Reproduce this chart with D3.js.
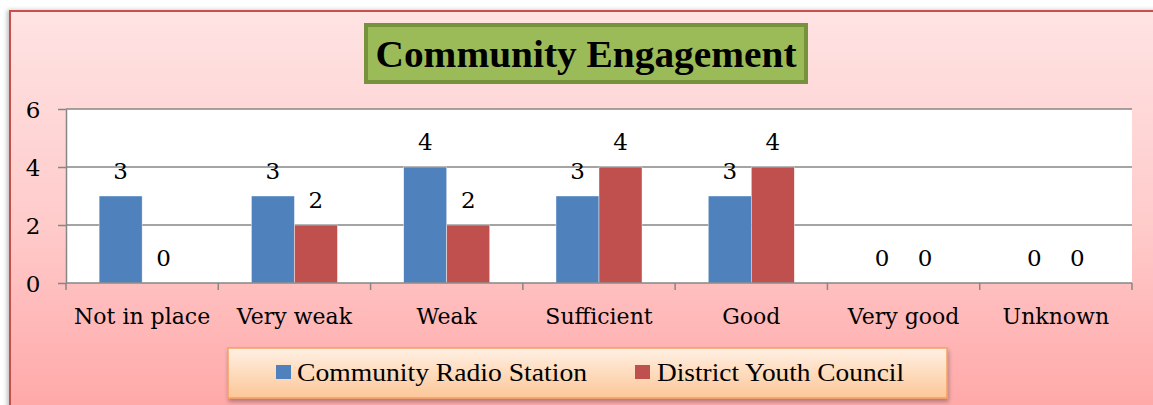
<!DOCTYPE html>
<html>
<head>
<meta charset="utf-8">
<script src="https://cdn.jsdelivr.net/npm/d3@7"></script>
<style>
  body { margin: 0; background: #fff; }
  svg { display: block; }
</style>
</head>
<body>
<script>
// data
var categories = ["Not in place", "Very weak", "Weak", "Sufficient", "Good", "Very good", "Unknown"];
var seriesNames = ["Community Radio Station", "District Youth Council"];
var radioValues = [3, 3, 4, 3, 3, 0, 0];
var youthValues = [0, 2, 2, 4, 4, 0, 0];
var yTicks = [0, 2, 4, 6];
var chartTitle = "Community Engagement";

var seriesColors = ["#4f81bd", "#c0504d"];

var W = 1153, H = 405;
// plot area
var margin = { top: 109, right: 21, bottom: 122, left: 66 };
var width = W - margin.left - margin.right,
    height = H - margin.top - margin.bottom;

var svg = d3.select("body").append("svg")
    .attr("width", W)
    .attr("height", H);

var defs = svg.append("defs");

var bgGrad = defs.append("linearGradient")
    .attr("id", "bgGrad").attr("x1", 0).attr("y1", 0).attr("x2", 0).attr("y2", 1);
bgGrad.append("stop").attr("offset", "0%").attr("stop-color", "#ffe3e3");
bgGrad.append("stop").attr("offset", "50%").attr("stop-color", "#ffcbcb");
bgGrad.append("stop").attr("offset", "100%").attr("stop-color", "#ffa3a3");

var legGrad = defs.append("linearGradient")
    .attr("id", "legGrad").attr("x1", 0).attr("y1", 0).attr("x2", 0).attr("y2", 1);
legGrad.append("stop").attr("offset", "0%").attr("stop-color", "#fff0e4");
legGrad.append("stop").attr("offset", "100%").attr("stop-color", "#fcc797");

var shadow = defs.append("filter").attr("id", "shadow")
    .attr("x", "-5%").attr("y", "-20%").attr("width", "110%").attr("height", "150%");
shadow.append("feDropShadow").attr("dx", 1).attr("dy", 3).attr("stdDeviation", 2)
    .attr("flood-color", "#000").attr("flood-opacity", 0.3);

var shadowBg = defs.append("filter").attr("id", "shadowBg")
    .attr("x", "-2%").attr("y", "-2%").attr("width", "104%").attr("height", "104%");
shadowBg.append("feDropShadow").attr("dx", -2).attr("dy", 0).attr("stdDeviation", 2)
    .attr("flood-color", "#000").attr("flood-opacity", 0.25);

// chart background
svg.append("rect")
    .attr("x", 10).attr("y", 11)
    .attr("width", W + 20).attr("height", H + 20)
    .attr("fill", "url(#bgGrad)")
    .attr("stroke", "#c9504d")
    .attr("stroke-width", 2)
    .attr("filter", "url(#shadowBg)");

// title box
var titleBox = { x: 366, y: 25, w: 440, h: 57 };
svg.append("rect")
    .attr("x", titleBox.x).attr("y", titleBox.y)
    .attr("width", titleBox.w).attr("height", titleBox.h)
    .attr("fill", "#9bbb59")
    .attr("stroke", "#76923c")
    .attr("stroke-width", 4);
svg.append("text")
    .attr("x", titleBox.x + titleBox.w / 2)
    .attr("y", 67)
    .attr("text-anchor", "middle")
    .attr("textLength", 421)
    .attr("lengthAdjust", "spacingAndGlyphs")
    .style("font-family", "'Liberation Serif', serif")
    .style("font-weight", "bold")
    .style("font-size", "37px")
    .attr("fill", "#000")
    .text(chartTitle);

var g = svg.append("g")
    .attr("transform", "translate(" + margin.left + "," + margin.top + ")");

// scales
var x0 = d3.scaleBand().domain(categories).range([0, width]).padding(0);
var x1 = d3.scaleBand().domain(seriesNames).range([0, x0.bandwidth()])
    .paddingInner(0).paddingOuter(0.77);
var y = d3.scaleLinear().domain([0, 6]).range([height, 0]);

// plot area
g.append("rect")
    .attr("width", width).attr("height", height)
    .attr("fill", "#fff");

// gridlines
g.selectAll("line.grid")
    .data(yTicks.filter(function (d) { return d > 0; }))
    .enter().append("line")
    .attr("class", "grid")
    .attr("x1", 0).attr("x2", width)
    .attr("y1", function (d) { return y(d); })
    .attr("y2", function (d) { return y(d); })
    .attr("stroke", "#868686")
    .attr("stroke-width", 1.5);

var rows = categories.map(function (c, i) {
    return { cat: c, vals: [radioValues[i], youthValues[i]] };
});

// bars
var groups = g.selectAll("g.cat")
    .data(rows)
    .enter().append("g")
    .attr("class", "cat")
    .attr("transform", function (d) { return "translate(" + x0(d.cat) + ",0)"; });

groups.selectAll("rect")
    .data(function (d) {
        return d.vals.map(function (v, k) { return { s: seriesNames[k], v: v, k: k }; });
    })
    .enter().append("rect")
    .attr("x", function (d) { return x1(d.s); })
    .attr("y", function (d) { return y(d.v); })
    .attr("width", x1.bandwidth())
    .attr("height", function (d) { return height - y(d.v); })
    .attr("fill", function (d) { return seriesColors[d.k]; })
    .attr("stroke", "#fff")
    .attr("stroke-width", 0.6)
    .attr("stroke-opacity", 0.7);

// value labels
groups.selectAll("text")
    .data(function (d) {
        return d.vals.map(function (v, k) { return { s: seriesNames[k], v: v, k: k }; });
    })
    .enter().append("text")
    .attr("x", function (d) { return x1(d.s) + x1.bandwidth() / 2; })
    .attr("y", function (d) { return y(d.v) - 17; })
    .attr("text-anchor", "middle")
    .style("font-family", "'DejaVu Serif', serif")
    .style("font-size", "23px")
    .attr("fill", "#000")
    .text(function (d) { return d.v; });

// y axis
var yAxis = g.append("g")
    .call(d3.axisLeft(y).tickValues(yTicks).tickSize(8).tickSizeOuter(0).tickFormat(d3.format("d")));
yAxis.select(".domain").attr("stroke", "#868686").attr("stroke-width", 1.5);
yAxis.selectAll(".tick line").attr("stroke", "#868686").attr("stroke-width", 1.5);
yAxis.selectAll(".tick text")
    .attr("x", -33).attr("dy", "0.36em")
    .attr("text-anchor", "middle")
    .style("font-family", "'DejaVu Serif', serif")
    .style("font-size", "23px")
    .attr("fill", "#000");

// x axis with ticks on category boundaries
var xAxisG = g.append("g").attr("transform", "translate(0," + height + ")");
xAxisG.append("line")
    .attr("x1", 0).attr("x2", width)
    .attr("stroke", "#868686").attr("stroke-width", 1.5);
xAxisG.selectAll("line.tk")
    .data(categories.concat(["end"]))
    .enter().append("line")
    .attr("class", "tk")
    .attr("x1", function (d, i) { return i * x0.step(); })
    .attr("x2", function (d, i) { return i * x0.step(); })
    .attr("y1", 0).attr("y2", 7)
    .attr("stroke", "#868686").attr("stroke-width", 1.5);
xAxisG.selectAll("text")
    .data(categories)
    .enter().append("text")
    .attr("x", function (d) { return x0(d) + x0.bandwidth() / 2; })
    .attr("y", 41)
    .attr("text-anchor", "middle")
    .style("font-family", "'DejaVu Serif', serif")
    .style("font-size", "22px")
    .attr("fill", "#000")
    .text(function (d) { return d; });

// legend
var legBox = { x: 228, y: 348, w: 719, h: 50 };
svg.append("rect")
    .attr("x", legBox.x).attr("y", legBox.y)
    .attr("width", legBox.w).attr("height", legBox.h)
    .attr("fill", "url(#legGrad)")
    .attr("stroke", "#f5a062")
    .attr("stroke-width", 1.5)
    .attr("filter", "url(#shadow)");

var legendItems = [
    { name: seriesNames[0], color: seriesColors[0], sx: 276, tx: 297, tw: 290 },
    { name: seriesNames[1], color: seriesColors[1], sx: 635, tx: 657, tw: 247 }
];
var leg = svg.selectAll("g.leg")
    .data(legendItems)
    .enter().append("g")
    .attr("class", "leg");
leg.append("rect")
    .attr("x", function (d) { return d.sx; })
    .attr("y", 365)
    .attr("width", 15).attr("height", 14)
    .attr("fill", function (d) { return d.color; });
leg.append("text")
    .attr("x", function (d) { return d.tx; })
    .attr("y", 381)
    .attr("textLength", function (d) { return d.tw; })
    .attr("lengthAdjust", "spacingAndGlyphs")
    .style("font-family", "'Liberation Serif', serif")
    .style("font-size", "26px")
    .attr("fill", "#000")
    .text(function (d) { return d.name; });
</script>
</body>
</html>
